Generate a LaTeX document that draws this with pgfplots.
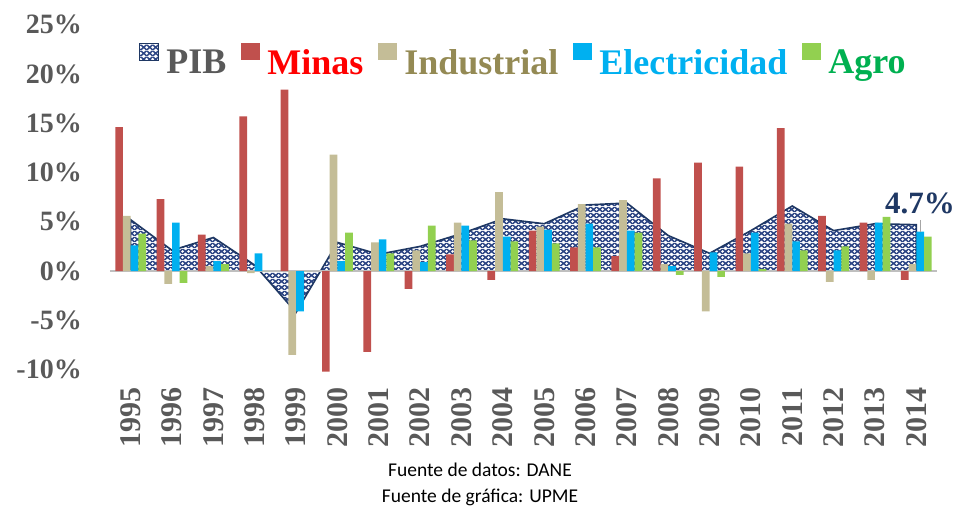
\documentclass[border=0pt]{standalone}
\usepackage{fontspec}
\setmainfont{Liberation Serif}
\newfontfamily\calfont{Carlito}
\usepackage{pgfplots}
\pgfplotsset{compat=1.18}
\usetikzlibrary{patterns.meta}
\definecolor{minas}{HTML}{C0504D}
\definecolor{indus}{HTML}{C4BD97}
\definecolor{elec}{HTML}{00B0F0}
\definecolor{agro}{HTML}{92D050}
\definecolor{pibnavy}{HTML}{1F3864}
\definecolor{patnavy}{HTML}{2C4584}
\definecolor{ticgray}{HTML}{595959}
\definecolor{minastext}{HTML}{FF0000}
\definecolor{industext}{HTML}{948A54}
\definecolor{electext}{HTML}{00B0F0}
\definecolor{agrotext}{HTML}{00B050}
\definecolor{axgray}{HTML}{BFBFBF}
\pgfdeclarepattern{
  name=pibpat, type=colored,
  bottom left={\pgfpoint{0pt}{0pt}},
  top right={\pgfpoint{6pt}{6pt}},
  tile size={\pgfpoint{6pt}{6pt}},
  code={
    \pgfsetfillcolor{patnavy}
    \pgfpathrectangle{\pgfpoint{0pt}{0pt}}{\pgfpoint{6pt}{6pt}}
    \pgfusepath{fill}
    \pgfsetfillcolor{white}
    \pgfpathcircle{\pgfpoint{3pt}{3pt}}{1.7pt}
    \pgfusepath{fill}
    \pgfpathcircle{\pgfpoint{0pt}{0pt}}{1.4pt}
    \pgfusepath{fill}
    \pgfpathcircle{\pgfpoint{6pt}{0pt}}{1.4pt}
    \pgfusepath{fill}
    \pgfpathcircle{\pgfpoint{0pt}{6pt}}{1.4pt}
    \pgfusepath{fill}
    \pgfpathcircle{\pgfpoint{6pt}{6pt}}{1.4pt}
    \pgfusepath{fill}
  }
}
\pgfplotstableread{
x pib minas indus elec agro
0 5.2 14.6 5.6 2.6 3.8
1 2.1 7.3 -1.3 4.9 -1.2
2 3.4 3.7 0.5 1.0 0.7
3 0.6 15.7 -0.2 1.8 0.0
4 -4.2 18.4 -8.5 -4.1 0.0
5 2.9 -10.2 11.8 1.0 3.9
6 1.7 -8.2 2.9 3.2 1.8
7 2.5 -1.8 2.1 0.9 4.6
8 3.8 1.7 4.9 4.6 3.1
9 5.3 -0.9 8.0 3.5 3.0
10 4.8 4.1 4.5 4.2 2.8
11 6.7 2.4 6.8 4.8 2.4
12 6.9 1.5 7.2 4.1 3.9
13 3.6 9.4 0.7 0.5 -0.4
14 1.8 11.0 -4.1 1.9 -0.6
15 4.1 10.6 1.8 3.9 0.2
16 6.6 14.5 4.8 3.0 2.1
17 4.1 5.6 -1.1 2.1 2.5
18 4.8 4.9 -0.9 4.9 5.5
19 4.7 -0.9 0.7 4.0 3.5
}\datatable
\begin{document}
\begin{tikzpicture}
\begin{axis}[
  at={(0pt,0pt)}, anchor=south west,
  scale only axis, width=827pt, height=345pt,
  xmin=-0.5, xmax=19.5, ymin=-10, ymax=25,
  clip=false,
  axis line style={draw=none},
  major tick length=0pt,
  xtick={0,...,19},
  xticklabels={1995,1996,1997,1998,1999,2000,2001,2002,2003,2004,2005,2006,2007,2008,2009,2010,2011,2012,2013,2014},
  ytick={-10,-5,0,5,10,15,20,25},
  yticklabels={-10\%,-5\%,0\%,5\%,10\%,15\%,20\%,25\%},
  ticklabel style={text=ticgray, inner sep=0pt},
  xticklabel style={font=\fontsize{30}{30}\selectfont\bfseries, rotate=90, anchor=east, xshift=-18pt},
  yticklabel style={font=\fontsize{28}{28}\selectfont\bfseries, anchor=east, xshift=-28pt},
  legend columns=-1,
  legend style={draw=none, fill=none, at={(0.5,0.897)}, anchor=center,
    font=\fontsize{36}{36}\selectfont\bfseries, inner sep=0pt,
    column sep=5pt,
    /tikz/every even column/.append style={column sep=13pt}},
]
\addplot[draw=pibnavy, line width=1.6pt, pattern={pibpat},
  legend image code/.code={\path[pattern={pibpat}, draw=pibnavy, line width=1pt] (0pt,2pt) rectangle (19pt,19pt);}]
  table[x=x, y=pib] {\datatable} \closedcycle;
\addlegendentry{\textcolor{ticgray}{PIB}}
\draw[axgray, line width=2pt] (axis cs:-0.5,0) -- (axis cs:19.5,0);
\addplot[ybar, bar width=7.7pt, bar shift=-11.55pt, fill=minas, draw=none,
  legend image code/.code={\fill[minas] (0pt,2pt) rectangle (19pt,19pt);}]
  table[x=x, y=minas] {\datatable};
\addlegendentry{\textcolor{minastext}{Minas}}
\addplot[ybar, bar width=7.7pt, bar shift=-3.85pt, fill=indus, draw=none,
  legend image code/.code={\fill[indus] (0pt,2pt) rectangle (19pt,19pt);}]
  table[x=x, y=indus] {\datatable};
\addlegendentry{\textcolor{industext}{Industrial}}
\addplot[ybar, bar width=7.7pt, bar shift=3.85pt, fill=elec, draw=none,
  legend image code/.code={\fill[elec] (0pt,2pt) rectangle (19pt,19pt);}]
  table[x=x, y=elec] {\datatable};
\addlegendentry{\textcolor{electext}{Electricidad}}
\addplot[ybar, bar width=7.7pt, bar shift=11.55pt, fill=agro, draw=none,
  legend image code/.code={\fill[agro] (0pt,2pt) rectangle (19pt,19pt);}]
  table[x=x, y=agro] {\datatable};
\addlegendentry{\textcolor{agrotext}{Agro}}
\draw[gray!70, line width=1pt] (axis cs:19.11,5.2) -- (axis cs:19.11,3.96);
\node[font=\fontsize{31}{31}\selectfont\bfseries, text=pibnavy, inner sep=0pt]
  at (axis cs:19.09,6.9) {4.7\%};
\end{axis}
\node[font=\calfont\fontsize{19.5}{19.5}\selectfont, inner sep=0pt] at (370pt,-100.4pt) {Fuente de datos: DANE};
\node[font=\calfont\fontsize{19.5}{19.5}\selectfont, inner sep=0pt] at (370pt,-127.4pt) {Fuente de gráfica: UPME};
\pgfresetboundingbox
\path (-110pt,-136.4pt) rectangle (848pt,369.6pt);
\end{tikzpicture}
\end{document}
